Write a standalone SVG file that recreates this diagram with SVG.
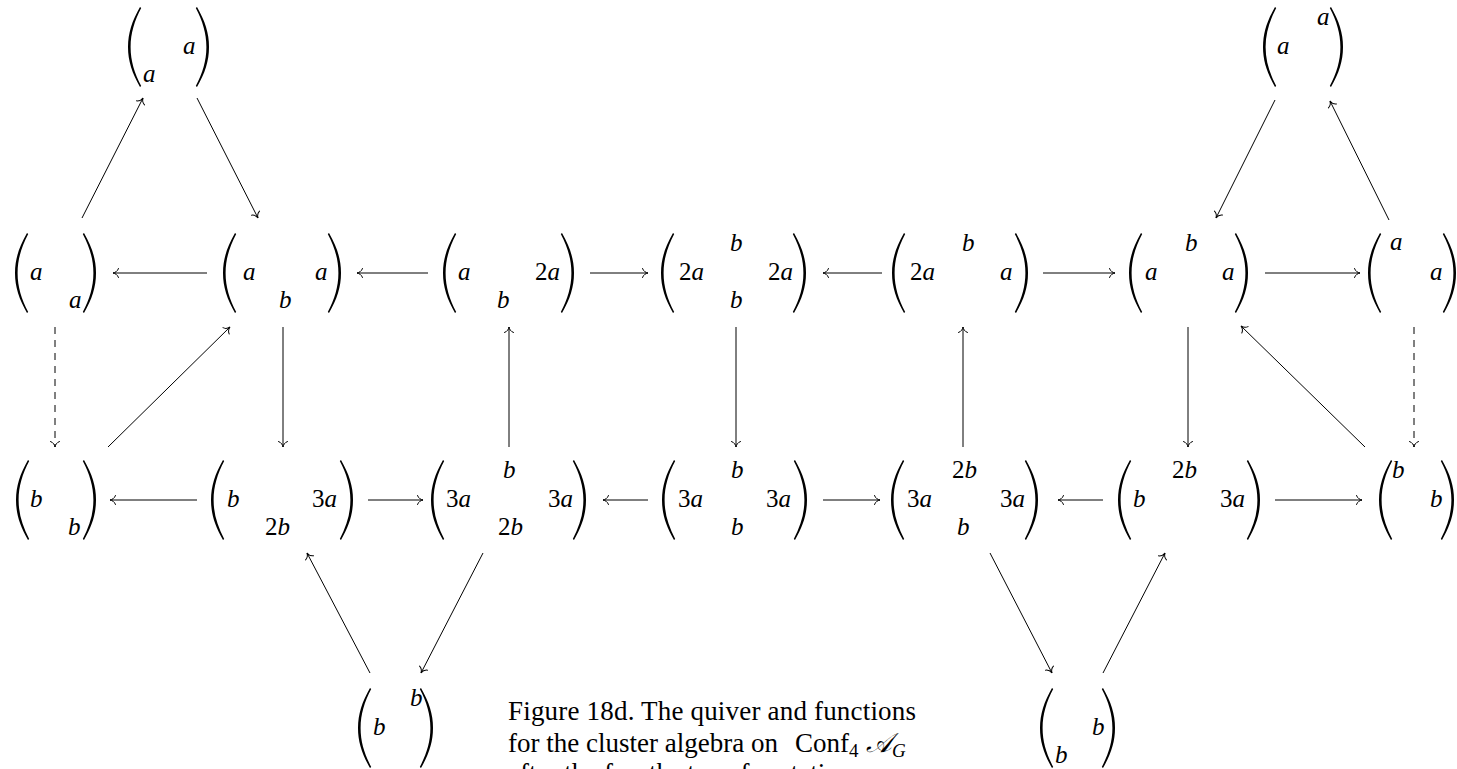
<svg xmlns="http://www.w3.org/2000/svg" width="1457" height="769" viewBox="0 0 1457 769">
<defs>
<path id="lp" d="M13,0 C5,14 1,26 1,40 C1,54 5,66 13,80 L14.2,79 C7.5,66 3.6,54 3.6,40 C3.6,26 7.5,14 14.2,1 Z" fill="#000"/>
<path id="rp" d="M1,0 C9,14 13,26 13,40 C13,54 9,66 1,80 L-0.2,79 C6.5,66 10.4,54 10.4,40 C10.4,26 6.5,14 -0.2,1 Z" fill="#000"/>
<marker id="ah" viewBox="-8 -6 10 12" refX="0" refY="0" markerWidth="10" markerHeight="12" markerUnits="userSpaceOnUse" orient="auto" overflow="visible">
<path d="M-5.5,-4.5 C-4.5,-1.5 -2,-0.4 0,0 C-2,0.4 -4.5,1.5 -5.5,4.5" fill="none" stroke="#000" stroke-width="1" stroke-linecap="round" stroke-dasharray="none"/>
</marker>
</defs>
<style>
.m{font-family:"Liberation Serif","DejaVu Serif",serif;font-style:italic;font-size:25px;fill:#000}
.n{font-style:normal}
#connectors line{stroke:#000;stroke-width:1;fill:none;marker-end:url(#ah)}
#connectors line.d{stroke-dasharray:7 6}
.cap{font-family:"Liberation Serif","DejaVu Serif",serif;font-size:27px;fill:#000}
.sub{font-size:19px}
</style>
<rect width="1457" height="769" fill="#fff"/>

<g id="connectors">
<line x1="207" y1="273" x2="113" y2="273"/>
<line x1="428" y1="273" x2="357" y2="273"/>
<line x1="590" y1="273" x2="648" y2="273"/>
<line x1="882" y1="273" x2="823" y2="273"/>
<line x1="1043" y1="273" x2="1115" y2="273"/>
<line x1="1265" y1="273" x2="1360" y2="273"/>
<line x1="197" y1="500" x2="110" y2="500"/>
<line x1="368" y1="500" x2="423" y2="500"/>
<line x1="648" y1="500" x2="603" y2="500"/>
<line x1="823" y1="500" x2="880" y2="500"/>
<line x1="1103" y1="500" x2="1058" y2="500"/>
<line x1="1275" y1="500" x2="1362" y2="500"/>
<line class="d" x1="55" y1="327" x2="55" y2="447"/>
<line x1="283" y1="327" x2="283" y2="447"/>
<line x1="509" y1="447" x2="509" y2="327"/>
<line x1="736" y1="327" x2="736" y2="447"/>
<line x1="963" y1="447" x2="963" y2="327"/>
<line x1="1188" y1="327" x2="1188" y2="447"/>
<line class="d" x1="1414" y1="327" x2="1414" y2="447"/>
<line x1="82" y1="218" x2="143" y2="98"/>
<line x1="197" y1="98" x2="258" y2="218"/>
<line x1="108" y1="447" x2="230" y2="327"/>
<line x1="1275" y1="100" x2="1216" y2="218"/>
<line x1="1389" y1="220" x2="1330" y2="101"/>
<line x1="1365" y1="447" x2="1241" y2="326"/>
<line x1="370" y1="673" x2="307" y2="553"/>
<line x1="483" y1="553" x2="421" y2="673"/>
<line x1="990" y1="553" x2="1052" y2="673"/>
<line x1="1103" y1="673" x2="1165" y2="553"/>
</g>

<g id="TL">
<use href="#lp" x="127" y="7"/><use href="#rp" x="196" y="7"/>
<text class="m" x="183" y="54">a</text><text class="m" x="143" y="82">a</text>
</g>
<g id="TR">
<use href="#lp" x="1262" y="7"/><use href="#rp" x="1330" y="7"/>
<text class="m" x="1277" y="54">a</text><text class="m" x="1317" y="25">a</text>
</g>

<g id="N1">
<use href="#lp" x="14" y="233"/><use href="#rp" x="83" y="233"/>
<text class="m" x="30" y="280">a</text><text class="m" x="69" y="308">a</text>
</g>
<g id="N2">
<use href="#lp" x="222" y="233"/><use href="#rp" x="328" y="233"/>
<text class="m" x="243" y="280">a</text><text class="m" x="279" y="308">b</text><text class="m" x="315" y="280">a</text>
</g>
<g id="N3">
<use href="#lp" x="442" y="233"/><use href="#rp" x="561" y="233"/>
<text class="m" x="458" y="280">a</text><text class="m" x="497" y="308">b</text><text class="m" x="535" y="280"><tspan class="n">2</tspan>a</text>
</g>
<g id="N4">
<use href="#lp" x="660" y="233"/><use href="#rp" x="793" y="233"/>
<text class="m" x="679" y="280"><tspan class="n">2</tspan>a</text><text class="m" x="730" y="251">b</text><text class="m" x="730" y="308">b</text><text class="m" x="768" y="280"><tspan class="n">2</tspan>a</text>
</g>
<g id="N5">
<use href="#lp" x="891" y="233"/><use href="#rp" x="1015" y="233"/>
<text class="m" x="910" y="280"><tspan class="n">2</tspan>a</text><text class="m" x="962" y="251">b</text><text class="m" x="1000" y="280">a</text>
</g>
<g id="N6">
<use href="#lp" x="1128" y="233"/><use href="#rp" x="1235" y="233"/>
<text class="m" x="1145" y="280">a</text><text class="m" x="1185" y="251">b</text><text class="m" x="1222" y="280">a</text>
</g>
<g id="N7">
<use href="#lp" x="1367" y="233"/><use href="#rp" x="1443" y="233"/>
<text class="m" x="1390" y="250">a</text><text class="m" x="1430" y="280">a</text>
</g>

<g id="M1">
<use href="#lp" x="15" y="460"/><use href="#rp" x="83" y="460"/>
<text class="m" x="30" y="507">b</text><text class="m" x="68" y="535">b</text>
</g>
<g id="M2">
<use href="#lp" x="210" y="460"/><use href="#rp" x="340" y="460"/>
<text class="m" x="227" y="507">b</text><text class="m" x="265" y="535"><tspan class="n">2</tspan>b</text><text class="m" x="312" y="507"><tspan class="n">3</tspan>a</text>
</g>
<g id="M3">
<use href="#lp" x="430" y="460"/><use href="#rp" x="573" y="460"/>
<text class="m" x="446" y="507"><tspan class="n">3</tspan>a</text><text class="m" x="503" y="478">b</text><text class="m" x="498" y="535"><tspan class="n">2</tspan>b</text><text class="m" x="548" y="507"><tspan class="n">3</tspan>a</text>
</g>
<g id="M4">
<use href="#lp" x="661" y="460"/><use href="#rp" x="794" y="460"/>
<text class="m" x="678" y="507"><tspan class="n">3</tspan>a</text><text class="m" x="731" y="478">b</text><text class="m" x="731" y="535">b</text><text class="m" x="766" y="507"><tspan class="n">3</tspan>a</text>
</g>
<g id="M5">
<use href="#lp" x="890" y="460"/><use href="#rp" x="1025" y="460"/>
<text class="m" x="907" y="507"><tspan class="n">3</tspan>a</text><text class="m" x="952" y="478"><tspan class="n">2</tspan>b</text><text class="m" x="957" y="535">b</text><text class="m" x="1000" y="507"><tspan class="n">3</tspan>a</text>
</g>
<g id="M6">
<use href="#lp" x="1117" y="460"/><use href="#rp" x="1247" y="460"/>
<text class="m" x="1133" y="507">b</text><text class="m" x="1172" y="478"><tspan class="n">2</tspan>b</text><text class="m" x="1220" y="507"><tspan class="n">3</tspan>a</text>
</g>
<g id="M7">
<use href="#lp" x="1378" y="460"/><use href="#rp" x="1441" y="460"/>
<text class="m" x="1392" y="478">b</text><text class="m" x="1430" y="507">b</text>
</g>

<g id="BL">
<use href="#lp" x="357" y="688"/><use href="#rp" x="420" y="688"/>
<text class="m" x="373" y="735">b</text><text class="m" x="410" y="706">b</text>
</g>
<g id="BR">
<use href="#lp" x="1039" y="688"/><use href="#rp" x="1102" y="688"/>
<text class="m" x="1055" y="763">b</text><text class="m" x="1092" y="735">b</text>
</g>

<g id="caption">
<text class="cap" x="508" y="720" textLength="408" lengthAdjust="spacing">Figure 18d. The quiver and functions</text>
<text class="cap" y="752"><tspan x="508">for the cluster algebra on</tspan><tspan x="795">Conf</tspan><tspan class="sub" dy="5">4</tspan><tspan x="866" dy="-5" font-style="italic">𝒜</tspan><tspan class="sub" font-style="italic" dy="5">G</tspan></text>
<text class="cap" x="508" y="782">after the fourth step of mutations</text>
</g>
</svg>
